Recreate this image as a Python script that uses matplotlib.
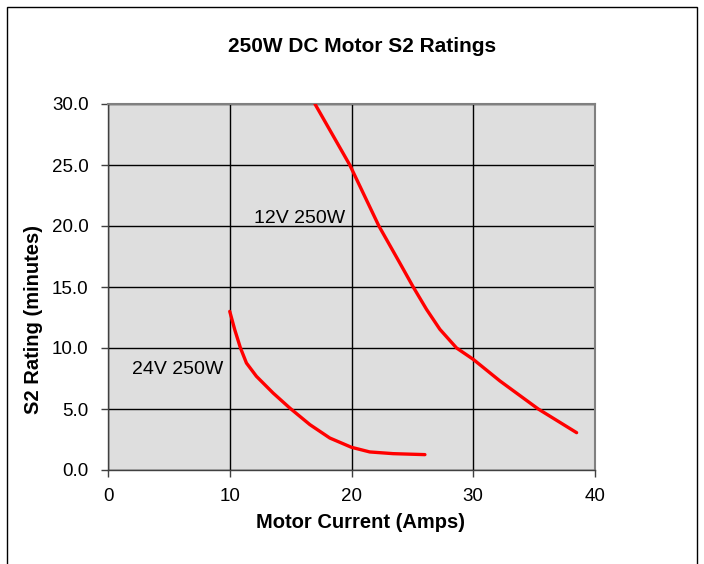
# 250W DC モーターの S2 定格グラフ
import matplotlib
matplotlib.use("Agg")
import matplotlib.pyplot as plt
from matplotlib.patches import Rectangle

plt.rcParams['font.family'] = ['Liberation Sans', 'DejaVu Sans']

# 12V 250W の曲線 (電流 A, 定格 分)
amps_12v = [17.0, 19.86, 22.25, 23.95, 25.07, 26.16, 27.26, 28.63, 30.0, 32.19, 35.34, 38.49]
mins_12v = [30.0, 25.0, 20.0, 17.0, 15.0, 13.17, 11.53, 10.0, 9.07, 7.3, 5.0, 3.06]

# 24V 250W の曲線
amps_24v = [10.0, 10.41, 10.88, 11.37, 12.19, 13.56, 14.93, 16.58, 18.22, 20.0, 21.5, 23.42, 26.03]
mins_24v = [13.0, 11.5, 10.0, 8.77, 7.68, 6.31, 5.08, 3.72, 2.62, 1.86, 1.48, 1.34, 1.26]

x_ticks = [0, 10, 20, 30, 40]
y_ticks = [0, 5, 10, 15, 20, 25, 30]

W, H = 704, 564
fig = plt.figure(figsize=(W / 100, H / 100), dpi=100)

# 外枠 (下は画像の外まで続く)
fig.patches.append(Rectangle((7 / W, -0.05), 690 / W, 1.05 - 7 / H,
                             transform=fig.transFigure, fill=False,
                             edgecolor='black', linewidth=1.0))

ax = fig.add_axes([108 / W, 94 / H, 487 / W, 366 / H])
ax.set_facecolor('#dedede')

ax.plot(amps_12v, mins_12v, color='#ff0000', linewidth=2.4,
        solid_capstyle='round', solid_joinstyle='round', zorder=3)
ax.plot(amps_24v, mins_24v, color='#ff0000', linewidth=2.4,
        solid_capstyle='round', solid_joinstyle='round', zorder=3)

ax.set_xlim(0, 40)
ax.set_ylim(0, 30)
ax.set_xticks(x_ticks)
ax.set_yticks(y_ticks)
ax.set_yticklabels([f"{v:.1f}" for v in y_ticks])
ax.tick_params(labelsize=13.5, direction='out', length=5, width=1, color='#404040')
ax.tick_params(axis='x', pad=8)
ax.tick_params(axis='y', pad=9)

ax.grid(True, color='black', linewidth=1.0, zorder=1)
ax.set_axisbelow(True)

for side in ['top', 'right']:
    ax.spines[side].set_color('#808080')
    ax.spines[side].set_linewidth(1.5)
for side in ['left', 'bottom']:
    ax.spines[side].set_color('#404040')
    ax.spines[side].set_linewidth(1.0)

ax.text(15.7, 20.6, "12V 250W", fontsize=14, ha='center', va='center')
ax.text(5.7, 8.2, "24V 250W", fontsize=14, ha='center', va='center')

# 軸ラベルとタイトル (位置は手で合わせる)
fig.text(361 / W, 1 - 522 / H, "Motor Current (Amps)", fontsize=14.5,
         fontweight='bold', ha='center', va='center')
fig.text(33.5 / W, 1 - 319 / H, "S2 Rating (minutes)", fontsize=14.5,
         fontweight='bold', ha='center', va='center', rotation=90)
fig.text(362 / W, 1 - 47 / H, "250W DC Motor S2 Ratings", fontsize=15,
         fontweight='bold', ha='center', va='center')

fig.savefig("out.png", dpi=100)
